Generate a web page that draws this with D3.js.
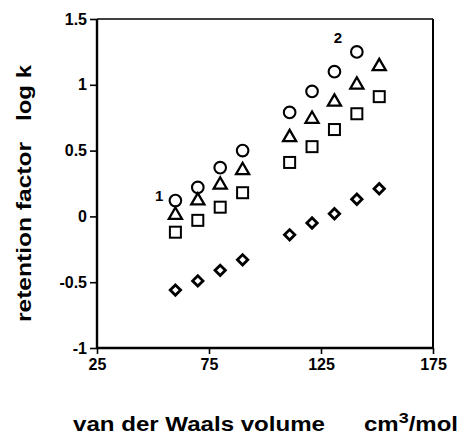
<!DOCTYPE html>
<html><head><meta charset="utf-8">
<script src="https://cdn.jsdelivr.net/npm/d3@7"></script>
<style>
html,body{margin:0;padding:0;background:#fff;}
svg{display:block;font-family:"Liberation Sans",Arial,Helvetica,sans-serif;font-weight:bold;}
</style></head>
<body>
<script>
// Data
const xCircle   = [60, 70, 80, 90, 111, 121, 131, 141];
const yCircle   = [0.12, 0.22, 0.37, 0.50, 0.79, 0.95, 1.10, 1.25];
const xTriangle = [60, 70, 80, 90, 111, 121, 131, 141, 151];
const yTriangle = [0.01, 0.12, 0.24, 0.35, 0.60, 0.74, 0.87, 1.00, 1.14];
const xSquare   = [60, 70, 80, 90, 111, 121, 131, 141, 151];
const ySquare   = [-0.12, -0.03, 0.07, 0.18, 0.41, 0.53, 0.66, 0.78, 0.91];
const xDiamond  = [60, 70, 80, 90, 111, 121, 131, 141, 151];
const yDiamond  = [-0.56, -0.49, -0.41, -0.33, -0.14, -0.05, 0.02, 0.13, 0.21];
const xTicks = [25, 75, 125, 175];
const xTickLabels = ["25", "75", "125", "175"];
const yTicks = [-1, -0.5, 0, 0.5, 1, 1.5];
const yTickLabels = ["-1", "-0.5", "0", "0.5", "1", "1.5"];
const seriesLabels = [{text: "1", x: 60, y: 0.12}, {text: "2", x: 141, y: 1.25}];

const W = 463, H = 436;
const L = 97, R = 433, T = 19, B = 348;
const svg = d3.select("body").append("svg").attr("width", W).attr("height", H);
const x = d3.scaleLinear().domain([25, 175]).range([L, R]);
const y = d3.scaleLinear().domain([-1, 1.5]).range([B, T]);

// frame
svg.append("line").attr("x1", L).attr("x2", R).attr("y1", T).attr("y2", T).attr("stroke", "#000").attr("stroke-width", 1.6);
svg.append("line").attr("x1", R).attr("x2", R).attr("y1", T).attr("y2", B).attr("stroke", "#000").attr("stroke-width", 2);

const yAxis = svg.append("g").attr("transform", `translate(${L},0)`)
  .call(d3.axisLeft(y).tickValues(yTicks).tickSize(7).tickPadding(3)
    .tickFormat((d, i) => yTickLabels[i]));
const xAxis = svg.append("g").attr("transform", `translate(0,${B})`)
  .call(d3.axisBottom(x).tickValues(xTicks).tickSize(6).tickPadding(5)
    .tickFormat((d, i) => xTickLabels[i]));
[yAxis, xAxis].forEach(g => {
  g.select(".domain").attr("stroke", "#000").attr("stroke-width", 2.4)
    .attr("d", g === yAxis ? `M0,${T}V${B}` : `M${L},0H${R}`);
  g.selectAll(".tick line").attr("stroke", "#000").attr("stroke-width", 1.6);
  g.selectAll(".tick text").attr("fill", "#000").attr("font-size", 16).attr("font-weight", "bold")
    .attr("font-family", '"Liberation Sans",Arial,sans-serif');
});

const mk = svg.append("g").attr("fill", "none").attr("stroke", "#000");
mk.selectAll("circle.c").data(xCircle).join("circle")
  .attr("cx", (d) => x(d)).attr("cy", (d, i) => y(yCircle[i])).attr("r", 5.8).attr("stroke-width", 2.1);
const tri = d3.symbol().type(d3.symbolTriangle).size(74);
mk.selectAll("path.t").data(xTriangle).join("path").attr("class", "t")
  .attr("d", tri).attr("transform", (d, i) => `translate(${x(d)},${y(yTriangle[i])})`).attr("stroke-width", 2.3);
mk.selectAll("rect.s").data(xSquare).join("rect").attr("class", "s")
  .attr("x", (d) => x(d) - 5.5).attr("y", (d, i) => y(ySquare[i]) - 5.5)
  .attr("width", 11).attr("height", 11).attr("stroke-width", 2);
mk.selectAll("path.d").data(xDiamond).join("path").attr("class", "d")
  .attr("d", "M0,-5.2L5.2,0L0,5.2L-5.2,0Z")
  .attr("transform", (d, i) => `translate(${x(d)},${y(yDiamond[i])})`).attr("stroke-width", 2.8)
  .attr("stroke-linejoin", "miter");

svg.selectAll("text.lbl").data(seriesLabels).join("text").attr("class", "lbl")
  .attr("x", d => x(d.x) - 12).attr("y", d => y(d.y) - (d.text === "1" ? 0 : 9))
  .attr("text-anchor", d => d.text === "1" ? "end" : "middle").attr("dx", d => d.text === "2" ? -7 : 0)
  .attr("font-size", 15).text(d => d.text);

// axis titles
svg.append("text").attr("transform", "translate(31,232) rotate(-90)").attr("text-anchor", "middle")
  .attr("font-size", 20).attr("textLength", 180).attr("lengthAdjust", "spacingAndGlyphs").text("retention factor");
svg.append("text").attr("transform", "translate(31,93) rotate(-90)").attr("text-anchor", "middle")
  .attr("font-size", 20).attr("textLength", 56).attr("lengthAdjust", "spacingAndGlyphs").text("log k");
svg.append("text").attr("x", 73).attr("y", 431).attr("font-size", 20)
  .attr("textLength", 252).attr("lengthAdjust", "spacingAndGlyphs").text("van der Waals volume");
const u = svg.append("text").attr("transform", "translate(364,431) scale(1.2,1)").attr("font-size", 20);
u.append("tspan").text("cm");
u.append("tspan").attr("dy", -8).attr("font-size", 15).text("3");
u.append("tspan").attr("dy", 8).text("/mol");
</script>
</body></html>
